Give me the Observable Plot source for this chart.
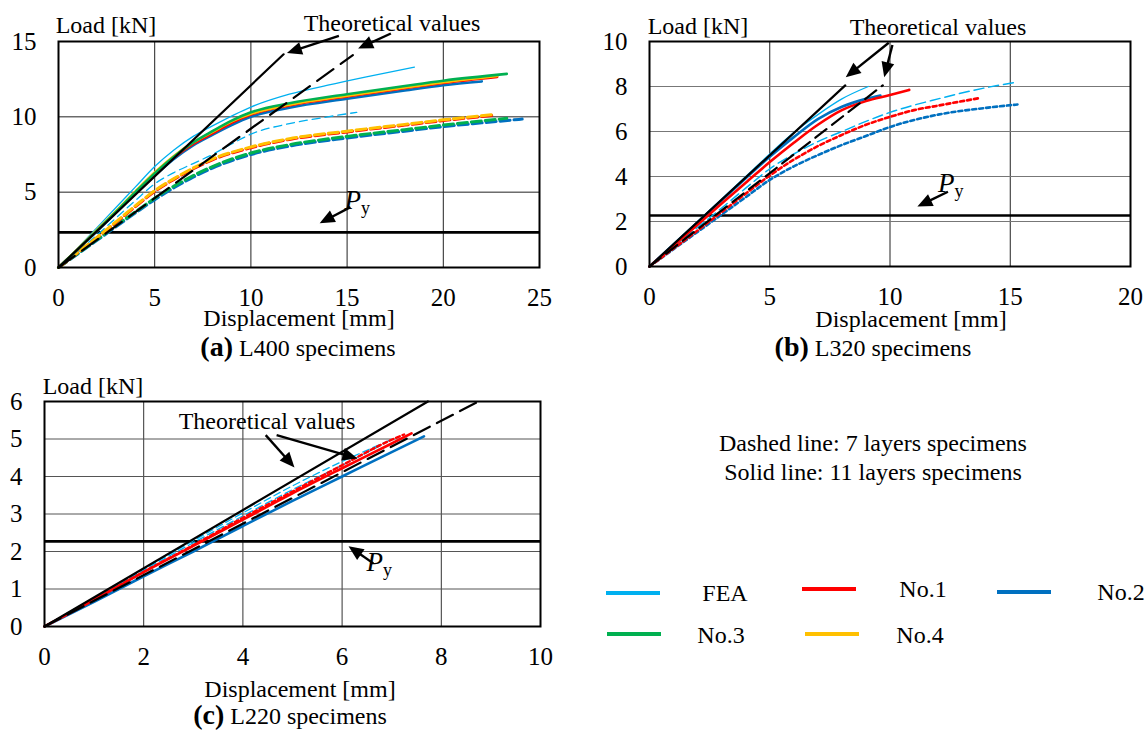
<!DOCTYPE html>
<html><head><meta charset="utf-8">
<script src="https://cdn.jsdelivr.net/npm/d3@7"></script>
<script src="https://cdn.jsdelivr.net/npm/@observablehq/plot@0.6"></script>
<style>
body{margin:0;background:#fff;}
#root{position:relative;width:1148px;height:731px;overflow:hidden;font-family:"Liberation Serif","Times New Roman",serif;color:#000;}
.t{position:absolute;white-space:nowrap;line-height:1;transform:translate(-50%,-50%);}
.sw{position:absolute;height:4px;}
svg{position:absolute;}
</style></head><body><div id="root"></div>
<script>
const FONT = '"Liberation Serif","Times New Roman",serif';
const COLORS = {"FEA":"#00b0f0","No.1":"#ff0000","No.2":"#0070c0","No.3":"#00b050","No.4":"#ffc000"};
const legendNames = ["FEA","No.1","No.2","No.3","No.4"];

// ---------- Panel (a) L400 ----------
const aXTicks = [0,5,10,15,20,25];
const aYTicks = [0,5,10,15];
const aPy = 2.33;
const aTheory11 = [[0,0],[11.7,14.15]];
const aTheory7 = [[0,0],[15.3,14.1]];
const aFEA11 = [[0,0],[1,1.3],[2,2.65],[3,4.0],[4,5.35],[5,6.7],[6,7.8],[7,8.7],[8,9.4],[10,10.65],[12,11.5],[14,12.1],[16,12.65],[18.5,13.3]];
const aNo1_11 = [[0,0],[1,1.2],[2,2.45],[3,3.7],[4,4.95],[5,6.2],[6,7.3],[7,8.2],[8,8.9],[9,9.6],[10,10.15],[12,10.75],[15,11.35],[18,11.9],[20,12.25],[22.8,12.65]];
const aNo2_11 = [[0,0],[1,1.2],[2,2.4],[3,3.65],[4,4.9],[5,6.1],[6,7.2],[7,8.1],[8,8.8],[9,9.45],[10,10.0],[12,10.6],[15,11.2],[18,11.75],[20,12.1],[22,12.35]];
const aNo3_11 = [[0,0],[1,1.2],[2,2.45],[3,3.7],[4,5.0],[5,6.25],[6,7.35],[7,8.3],[8,9.05],[9,9.75],[10,10.3],[12,10.9],[15,11.5],[18,12.05],[20,12.4],[23.3,12.85]];
const aNo4_11 = [[0,0],[1,1.22],[2,2.5],[3,3.75],[4,5.05],[5,6.3],[6,7.4],[7,8.3],[8,9.0],[9,9.7],[10,10.2],[12,10.8],[15,11.4],[18,11.95],[20,12.3],[22.8,12.72]];
const aFEA7 = [[0,0],[1,1.05],[2,2.15],[3,3.3],[4,4.45],[5,5.55],[6,6.3],[7,6.9],[8,7.5],[9,8.2],[10,8.85],[12,9.55],[14,10.0],[15.5,10.3]];
const aNo1_7 = [[0,0],[1,0.98],[2,1.98],[3,3.0],[4,4.05],[5,5.05],[6,5.85],[7,6.55],[8,7.15],[10,7.95],[12,8.5],[15,9.0],[18,9.45],[20,9.75],[22.6,10.1]];
const aNo2_7 = [[0,0],[1,0.9],[2,1.8],[3,2.72],[4,3.62],[5,4.5],[6,5.3],[7,6.0],[8,6.6],[10,7.5],[12,8.05],[15,8.6],[18,9.05],[20,9.35],[22,9.6],[24.1,9.85]];
const aNo3_7 = [[0,0],[1,0.92],[2,1.85],[3,2.8],[4,3.7],[5,4.6],[6,5.4],[7,6.1],[8,6.7],[10,7.6],[12,8.15],[15,8.7],[18,9.15],[20,9.45],[23.3,9.9]];
const aNo4_7 = [[0,0],[1,1.0],[2,2.0],[3,3.05],[4,4.1],[5,5.1],[6,5.9],[7,6.6],[8,7.2],[10,8.0],[12,8.55],[15,9.05],[18,9.5],[20,9.8],[22.6,10.15]];
const aArrows = [[14.6,15.34,11.9,14.2],[17.3,15.5,15.6,14.5],[15.2,3.97,13.6,2.9]];
const aPyLabel = [15.55,3.85];

// ---------- Panel (b) L320 ----------
const bXTicks = [0,5,10,15,20];
const bYTicks = [0,2,4,6,8,10];
const bPy = 2.27;
const bTheory11 = [[0,0],[8.14,8.05]];
const bTheory7 = [[0,0],[9.7,8.05]];
const bFEA11 = [[0,0],[1,1.0],[2,2.0],[3,3.0],[4,4.0],[5,5.0],[6,5.95],[7,6.75],[8,7.45],[9.1,8.0]];
const bNo1_11 = [[0,0],[1,0.93],[2,1.86],[3,2.8],[4,3.72],[5,4.64],[6,5.5],[7,6.3],[8,6.95],[9,7.35],[10,7.62],[10.8,7.85]];
const bNo2_11 = [[0,0],[1,0.98],[2,1.96],[3,2.94],[4,3.92],[5,4.88],[6,5.75],[7,6.55],[8,7.1],[9,7.45],[9.6,7.6]];
const bFEA7 = [[0,0],[1,0.87],[2,1.74],[3,2.6],[4,3.48],[5,4.34],[6,5.0],[7,5.55],[8,6.0],[9,6.45],[10,6.85],[12,7.45],[14,7.95],[15.3,8.2]];
const bNo1_7 = [[0,0],[1,0.8],[2,1.6],[3,2.42],[4,3.24],[5,4.04],[6,4.75],[7,5.35],[8,5.85],[9,6.3],[10,6.65],[11,6.95],[12,7.15],[13.7,7.48]];
const bNo2_7 = [[0,0],[1,0.77],[2,1.54],[3,2.31],[4,3.08],[5,3.85],[6,4.45],[7,4.95],[8,5.4],[9,5.8],[10,6.2],[12,6.75],[14,7.05],[15.3,7.2]];
const bArrows = [[9.97,9.92,8.18,8.39],[10.12,9.82,9.78,8.39],[12.43,3.3,11.16,2.64]];
const bPyLabel = [12.55,3.3];

// ---------- Panel (c) L220 ----------
const cXTicks = [0,2,4,6,8,10];
const cYTicks = [0,1,2,3,4,5,6];
const cPy = 2.27;
const cTheory11 = [[0,0],[7.73,6]];
const cTheory7 = [[0,0],[8.75,6]];
const cFEA11 = [[0,0],[2,1.53],[4,3.03],[5,3.75],[6,4.4],[6.95,4.96]];
const cFEA7 = [[0,0],[2,1.5],[4,2.95],[5,3.65],[6,4.3],[6.85,4.88]];
const cNo1_11 = [[0,0],[1,0.71],[2,1.45],[3,2.15],[4,2.85],[5,3.55],[6,4.22],[7,4.88],[7.4,5.15]];
const cNo1_7 = [[0,0],[1,0.72],[2,1.46],[3,2.17],[4,2.9],[5,3.6],[6,4.3],[7,4.98],[7.25,5.12]];
const cNo2_11 = [[0,0],[1,0.66],[2,1.34],[3,2.0],[4,2.68],[5,3.35],[6,4.0],[7,4.65],[7.65,5.07]];
const cArrows = [[4.47,5.09,5.05,4.23],[4.69,5.09,6.32,4.47],[6.64,1.67,6.14,2.13]];
const cPyLabel = [6.76,1.47];

const root = document.getElementById("root");

function toRows(pts){ return pts.map(([x,y]) => ({x,y})); }

function curveMark(pts, name, layers, panel){
  const fea = name === "FEA";
  let w, dash;
  if (layers === 11) { w = fea ? 1.3 : 2.6; dash = null; }
  else if (panel === "a") { w = fea ? 1.3 : 3; dash = fea ? "8,5" : "10,4"; }
  else if (panel === "b") { w = fea ? 1.5 : 2.6; dash = fea ? "10,5" : "4,3"; }
  else { w = fea ? 1.3 : 2.4; dash = fea ? "7,4" : "4,3"; }
  const o = {x:"x", y:"y", stroke: COLORS[name], strokeWidth: w, curve: "monotone-x"};
  if (dash) o.strokeDasharray = dash;
  return Plot.line(toRows(pts), o);
}

function makePanel(cfg){
  const marks = [];
  const xg = cfg.xTicks.slice(1,-1), yg = cfg.yTicks.slice(1,-1);
  marks.push(Plot.ruleX(xg, {stroke: cfg.gridV, strokeWidth: 1}));
  marks.push(Plot.ruleY(yg, {stroke: cfg.gridH, strokeWidth: 1}));
  marks.push(Plot.ruleY([cfg.py], {stroke: "#000", strokeWidth: 2.6}));
  for (const s of cfg.series) marks.push(curveMark(s[0], s[1], s[2], cfg.id));
  marks.push(Plot.line(toRows(cfg.theory7), {x:"x", y:"y", stroke:"#000", strokeWidth: 2.2, strokeDasharray: cfg.tdash}));
  marks.push(Plot.line(toRows(cfg.theory11), {x:"x", y:"y", stroke:"#000", strokeWidth: 2.2}));
  marks.push(Plot.frame({stroke:"#000", strokeWidth: 2}));
  const plot = Plot.plot({
    width: cfg.W, height: cfg.H,
    marginLeft: cfg.mL, marginRight: cfg.mR, marginTop: cfg.mT, marginBottom: cfg.mB,
    x: {domain: cfg.xDomain, ticks: cfg.xTicks, tickSize: 0, tickPadding: 21, label: null, tickFormat: d => String(d)},
    y: {domain: cfg.yDomain, ticks: cfg.yTicks, tickSize: 0, tickPadding: 22, label: null, tickFormat: d => String(d)},
    style: {fontFamily: FONT, fontSize: "25px", color: "#000", background: "transparent", overflow: "visible"},
    marks
  });
  plot.style.left = cfg.left + "px";
  plot.style.top = cfg.top + "px";
  root.appendChild(plot);
  const X = plot.scale("x"), Y = plot.scale("y");
  const g = d3.select(plot).append("g");
  for (const [x1,y1,x2,y2] of cfg.arrows) {
    const px1 = X.apply(x1), py1 = Y.apply(y1), px2 = X.apply(x2), py2 = Y.apply(y2);
    const dx = px2-px1, dy = py2-py1, L = Math.hypot(dx,dy), ux = dx/L, uy = dy/L;
    const hl = 15, hw = 6.5;
    const bx = px2-ux*hl, by = py2-uy*hl;
    g.append("line").attr("x1",px1).attr("y1",py1).attr("x2",bx+ux*2).attr("y2",by+uy*2)
      .attr("stroke","#000").attr("stroke-width",2.4);
    g.append("path").attr("d",`M${px2},${py2}L${bx-uy*hw},${by+ux*hw}L${bx+uy*hw},${by-ux*hw}Z`).attr("fill","#000");
  }
  const t = g.append("text").attr("x", X.apply(cfg.pyLabel[0])).attr("y", Y.apply(cfg.pyLabel[1]))
    .attr("font-family", FONT).attr("font-size", 27).attr("fill","#000");
  t.append("tspan").attr("font-style","italic").text("P");
  t.append("tspan").attr("font-size",18).attr("dy",5).text("y");
  return plot;
}

makePanel({id:"a", left:0, top:0, W:560, H:330, mL:58, mR:21, mT:41, mB:63, tdash:"20,9",
  xDomain:[0,25], yDomain:[0,15], xTicks:aXTicks, yTicks:aYTicks, py:aPy, gridV:"#222", gridH:"#222",
  theory11:aTheory11, theory7:aTheory7, arrows:aArrows, pyLabel:aPyLabel,
  series:[[aFEA7,"FEA",7],[aNo2_7,"No.2",7],[aNo3_7,"No.3",7],[aNo1_7,"No.1",7],[aNo4_7,"No.4",7],
          [aFEA11,"FEA",11],[aNo2_11,"No.2",11],[aNo1_11,"No.1",11],[aNo4_11,"No.4",11],[aNo3_11,"No.3",11]]});

makePanel({id:"b", left:590, top:0, W:558, H:330, mL:59, mR:18, mT:41, mB:64, tdash:"14,7",
  xDomain:[0,20], yDomain:[0,10], xTicks:bXTicks, yTicks:bYTicks, py:bPy, gridV:"#222", gridH:"#777",
  theory11:bTheory11, theory7:bTheory7, arrows:bArrows, pyLabel:bPyLabel,
  series:[[bFEA7,"FEA",7],[bNo2_7,"No.2",7],[bNo1_7,"No.1",7],
          [bFEA11,"FEA",11],[bNo2_11,"No.2",11],[bNo1_11,"No.1",11]]});

makePanel({id:"c", left:0, top:370, W:560, H:300, mL:44, mR:20, mT:31, mB:44, tdash:"18,8",
  xDomain:[0,10], yDomain:[0,6], xTicks:cXTicks, yTicks:cYTicks, py:cPy, gridV:"#333", gridH:"#555",
  theory11:cTheory11, theory7:cTheory7, arrows:cArrows, pyLabel:cPyLabel,
  series:[[cNo2_11,"No.2",11],[cFEA7,"FEA",7],[cFEA11,"FEA",7],[cNo1_11,"No.1",11],[cNo1_7,"No.1",7]]});

function text(html, cx, cy, size, extra){
  const d = document.createElement("div");
  d.className = "t";
  d.style.left = cx + "px"; d.style.top = cy + "px"; d.style.fontSize = size + "px";
  if (extra) Object.assign(d.style, extra);
  d.innerHTML = html;
  root.appendChild(d);
}
// Panel texts
text("Load [kN]", 106, 25, 24);
text("Theoretical values", 392, 23, 24);
text("Displacement [mm]", 299, 318, 24);
text("<b style='font-size:28px'>(a)</b> L400 specimens", 298, 347, 24);

text("Load [kN]", 698, 26, 24);
text("Theoretical values", 938, 27, 24);
text("Displacement [mm]", 911, 319, 24);
text("<b style='font-size:28px'>(b)</b> L320 specimens", 873, 347, 24);

text("Load [kN]", 93, 386, 24);
text("Theoretical values", 267, 421, 24);
text("Displacement [mm]", 300, 689, 24);
text("<b style='font-size:28px'>(c)</b> L220 specimens", 290, 715, 24);

// Legend
text("Dashed line: 7 layers specimens", 873, 443, 24);
text("Solid line: 11 layers specimens", 873, 472, 24);
const legendPos = [[606,593,725,593],[802,589,923,589],[997,592,1121,592],[607,634,721,635],[805,634,920,635]];
legendNames.forEach((n,i) => {
  const [lx,ly,tx,ty] = legendPos[i];
  const s = document.createElement("div");
  s.className = "sw";
  s.style.left = lx + "px"; s.style.top = (ly-2) + "px"; s.style.width = "54px"; s.style.background = COLORS[n];
  root.appendChild(s);
  text(n, tx, ty, 24);
});
</script></body></html>
